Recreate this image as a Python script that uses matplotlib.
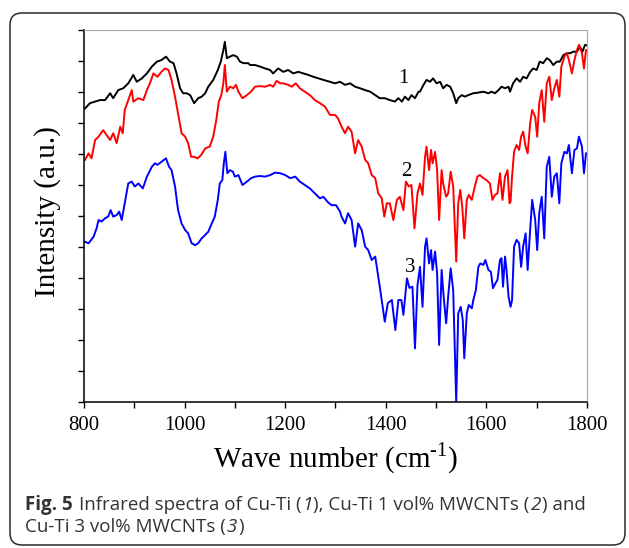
import matplotlib
matplotlib.use('Agg')
import matplotlib.pyplot as plt
from matplotlib.patches import FancyBboxPatch
from matplotlib.transforms import IdentityTransform
from matplotlib.ticker import MultipleLocator

plt.rcParams['font.family'] = 'Liberation Serif'
plt.rcParams['mathtext.fontset'] = 'custom'
plt.rcParams['mathtext.rm'] = 'Liberation Serif'

# curve 1: Cu-Ti
wn1 = [802, 812, 822, 832, 842, 852, 858, 868, 878, 888, 898, 905, 915, 925, 935, 945, 954, 963,
       971, 978, 984, 991, 997, 1004, 1011, 1019, 1027, 1034, 1041, 1047, 1057, 1066, 1072, 1077,
       1080, 1084, 1090, 1097, 1104, 1110, 1117, 1127, 1130, 1140, 1150, 1160, 1170, 1176, 1186,
       1196, 1206, 1216, 1226, 1236, 1246, 1256, 1266, 1276, 1289, 1299, 1309, 1319, 1329, 1339,
       1349, 1359, 1369, 1379, 1388, 1398, 1408, 1418, 1425, 1432, 1438, 1445, 1451, 1458, 1465,
       1468, 1475, 1481, 1488, 1494, 1501, 1508, 1514, 1521, 1528, 1534, 1540, 1544, 1551, 1557,
       1564, 1574, 1584, 1594, 1604, 1610, 1617, 1624, 1630, 1637, 1644, 1647, 1653, 1660, 1667,
       1673, 1680, 1687, 1693, 1700, 1706, 1713, 1720, 1726, 1733, 1740, 1746, 1753, 1760, 1766,
       1773, 1780, 1786, 1791, 1796, 1800]
int1 = [9.47, 9.64, 9.69, 9.74, 9.74, 9.96, 9.80, 10.06, 10.12, 10.28, 10.55, 10.33, 10.44, 10.60,
        10.82, 10.98, 11.03, 11.14, 10.98, 10.93, 10.60, 10.12, 9.96, 9.96, 9.90, 9.64, 9.80, 9.85,
        9.96, 10.17, 10.39, 10.71, 10.98, 11.35, 11.62, 11.09, 11.14, 11.19, 11.14, 10.98, 10.93,
        10.93, 10.87, 10.87, 10.82, 10.76, 10.71, 10.60, 10.76, 10.65, 10.71, 10.60, 10.65, 10.60,
        10.55, 10.49, 10.44, 10.39, 10.33, 10.28, 10.33, 10.23, 10.28, 10.17, 10.12, 10.06, 10.01,
        9.90, 9.80, 9.80, 9.74, 9.69, 9.80, 9.69, 9.85, 9.74, 9.90, 9.80, 10.01, 10.01, 10.23,
        10.39, 10.33, 10.44, 10.28, 10.33, 10.12, 10.23, 10.17, 9.96, 9.64, 9.80, 9.90, 9.85, 9.90,
        9.96, 9.98, 10.01, 9.96, 10.01, 9.96, 10.06, 10.17, 10.12, 10.17, 10.01, 10.28, 10.44,
        10.33, 10.49, 10.44, 10.65, 10.76, 10.71, 10.98, 10.93, 11.09, 11.03, 10.87, 10.98, 10.98,
        11.19, 11.25, 11.25, 11.30, 11.30, 11.46, 11.30, 11.52, 11.50]

# curve 2: Cu-Ti 1 vol% MWCNTs
wn2 = [802, 809, 815, 822, 829, 838, 845, 852, 858, 865, 872, 877, 881, 888, 895, 898, 908, 918,
       925, 931, 938, 946, 954, 961, 968, 974, 981, 987, 994, 1001, 1007, 1013, 1019, 1026, 1033,
       1041, 1050, 1057, 1063, 1068, 1073, 1077, 1080, 1084, 1090, 1097, 1102, 1107, 1115, 1124,
       1132, 1140, 1150, 1160, 1170, 1176, 1183, 1190, 1196, 1206, 1213, 1221, 1229, 1239, 1249,
       1259, 1269, 1279, 1289, 1299, 1305, 1312, 1319, 1325, 1332, 1339, 1345, 1352, 1359, 1365,
       1372, 1379, 1385, 1392, 1397, 1402, 1408, 1415, 1422, 1428, 1435, 1440, 1446, 1451, 1457,
       1463, 1468, 1473, 1478, 1481, 1486, 1490, 1493, 1498, 1502, 1506, 1511, 1514, 1520, 1524,
       1529, 1534, 1540, 1544, 1548, 1552, 1556, 1561, 1565, 1571, 1574, 1577, 1582, 1587, 1594,
       1600, 1607, 1612, 1617, 1622, 1627, 1632, 1637, 1642, 1646, 1648, 1651, 1655, 1660, 1665,
       1669, 1673, 1678, 1682, 1687, 1691, 1697, 1701, 1705, 1710, 1715, 1720, 1725, 1730, 1735,
       1740, 1745, 1749, 1755, 1760, 1764, 1770, 1775, 1780, 1784, 1790, 1794, 1798]
int2 = [7.81, 8.02, 7.86, 8.45, 8.56, 8.77, 8.61, 8.45, 8.67, 8.35, 8.88, 8.67, 9.42, 9.74, 10.06,
        9.69, 9.80, 9.74, 10.06, 10.28, 10.60, 10.49, 10.65, 10.76, 10.71, 10.39, 9.85, 9.31, 8.67,
        8.56, 8.35, 7.91, 7.91, 7.86, 7.97, 8.18, 8.24, 8.56, 9.10, 9.69, 9.90, 10.28, 10.87, 10.01,
        10.17, 10.12, 10.23, 10.01, 9.80, 9.90, 10.01, 10.17, 10.19, 10.17, 10.23, 10.17, 10.36,
        10.28, 10.28, 10.23, 10.17, 10.28, 10.12, 10.01, 9.90, 9.74, 9.64, 9.53, 9.26, 9.26, 9.15,
        8.88, 8.67, 8.88, 8.72, 8.02, 8.45, 8.24, 7.81, 7.70, 7.32, 7.22, 6.73, 6.57, 5.98, 6.41,
        6.41, 5.87, 6.52, 6.62, 6.19, 7.11, 6.95, 7.00, 5.60, 6.73, 7.05, 6.68, 7.91, 8.24, 7.48,
        8.13, 7.70, 8.07, 7.48, 5.87, 7.48, 7.05, 6.62, 6.73, 7.43, 6.95, 4.53, 6.41, 6.84, 6.30,
        5.28, 6.52, 6.68, 6.52, 6.73, 6.95, 7.27, 7.32, 7.22, 7.16, 7.05, 6.52, 6.68, 6.73, 7.38,
        6.52, 7.27, 7.48, 6.41, 6.46, 7.27, 8.07, 8.29, 8.13, 8.56, 8.72, 8.24, 8.02, 8.99, 9.42,
        9.20, 8.56, 9.64, 10.06, 9.04, 10.28, 10.49, 9.74, 10.12, 10.39, 9.85, 10.82, 11.14, 11.25,
        11.03, 10.60, 11.03, 11.35, 11.52, 11.25, 10.76, 11.35]

# curve 3: Cu-Ti 3 vol% MWCNTs
wn3 = [802, 809, 819, 825, 829, 835, 842, 848, 853, 858, 865, 870, 875, 881, 888, 895, 901, 908,
       917, 925, 935, 941, 946, 954, 963, 969, 974, 981, 987, 994, 1001, 1007, 1014, 1021, 1027,
       1034, 1041, 1047, 1054, 1060, 1066, 1070, 1075, 1078, 1081, 1085, 1090, 1096, 1100, 1107,
       1115, 1124, 1132, 1140, 1150, 1160, 1170, 1180, 1190, 1200, 1210, 1220, 1229, 1239, 1249,
       1259, 1269, 1276, 1284, 1292, 1301, 1309, 1312, 1319, 1325, 1332, 1339, 1345, 1352, 1359,
       1365, 1372, 1379, 1388, 1398, 1404, 1412, 1419, 1425, 1431, 1435, 1442, 1447, 1453, 1458,
       1463, 1468, 1473, 1478, 1481, 1486, 1490, 1493, 1498, 1502, 1506, 1511, 1515, 1520, 1524,
       1529, 1534, 1540, 1544, 1549, 1553, 1556, 1561, 1565, 1571, 1574, 1579, 1584, 1588, 1594,
       1598, 1604, 1609, 1613, 1618, 1622, 1627, 1630, 1633, 1637, 1640, 1644, 1648, 1651, 1655,
       1660, 1665, 1669, 1673, 1678, 1682, 1687, 1691, 1697, 1701, 1705, 1710, 1715, 1720, 1725,
       1730, 1735, 1740, 1745, 1749, 1755, 1760, 1764, 1770, 1775, 1780, 1784, 1790, 1794, 1798]
int3 = [5.17, 5.12, 5.33, 5.60, 5.87, 5.82, 5.93, 5.98, 6.19, 5.98, 6.03, 6.14, 5.87, 6.41, 7.05,
        7.11, 6.95, 7.05, 6.89, 7.27, 7.59, 7.70, 7.65, 7.75, 7.86, 7.59, 7.48, 6.95, 6.19, 5.76,
        5.55, 5.44, 5.12, 5.06, 5.12, 5.28, 5.39, 5.49, 5.76, 5.98, 6.52, 7.05, 7.16, 7.70, 8.07,
        7.38, 7.48, 7.43, 7.27, 7.32, 7.00, 7.11, 7.22, 7.27, 7.29, 7.27, 7.32, 7.40, 7.38, 7.32,
        7.22, 7.27, 7.11, 7.00, 6.89, 6.73, 6.57, 6.62, 6.46, 6.35, 6.35, 6.14, 5.98, 5.76, 6.09,
        5.87, 5.01, 5.76, 5.55, 5.01, 4.90, 4.58, 4.69, 3.72, 2.59, 3.19, 3.29, 2.32, 3.29, 3.29,
        2.81, 3.99, 3.68, 3.72, 1.73, 3.77, 4.36, 3.07, 5.01, 5.28, 4.47, 4.90, 4.26, 4.85, 4.15,
        1.84, 4.26, 3.40, 2.54, 3.40, 4.31, 3.61, 0.0, 2.86, 3.07, 2.65, 1.41, 2.86, 3.13, 3.02,
        3.29, 3.61, 4.36, 4.47, 4.42, 4.58, 4.26, 4.20, 3.67, 3.83, 3.94, 4.58, 4.64, 3.72, 4.69,
        4.26, 3.40, 3.07, 3.29, 5.01, 5.23, 5.12, 4.36, 5.01, 5.44, 4.26, 5.55, 6.52, 5.87, 4.90,
        6.09, 6.62, 5.28, 7.59, 7.91, 6.62, 7.27, 7.38, 6.41, 7.70, 8.07, 8.02, 8.29, 7.38, 8.13,
        8.18, 8.56, 8.24, 7.38, 8.02]

labels = ['1', '2', '3']
label_pos = [(1434, 10.45), (1440, 7.45), (1448, 4.35)]
colors = ['black', '#ff0000', '#0000ff']

fig = plt.figure(figsize=(6.29, 5.48), dpi=100)

# rounded frame round the whole figure
frame = FancyBboxPatch((10, 3), 615, 532, boxstyle='round,pad=0,rounding_size=12',
                       transform=IdentityTransform(), fill=False, ec='#2b2b2b', lw=1.1)
fig.patches.append(frame)

ax = fig.add_axes([84 / 629, 1 - 402 / 548, 503 / 629, 372 / 548])
for wn, it, c in zip([wn1, wn2, wn3], [int1, int2, int3], colors):
    ax.plot(wn, it, color=c, lw=1.4)
for s, (x, y) in zip(labels, label_pos):
    ax.text(x, y, s, fontsize=15, ha='center', va='center')

ax.set_xlim(800, 1800)
ax.set_ylim(0, 12)
ax.xaxis.set_major_locator(MultipleLocator(200))
ax.xaxis.set_minor_locator(MultipleLocator(100))
ax.yaxis.set_major_locator(MultipleLocator(1))
ax.tick_params(axis='x', which='both', direction='out', length=4, width=1, labelsize=15, pad=6)
ax.tick_params(axis='y', which='both', direction='out', length=4, width=1, labelleft=False)
for side in ['top', 'right']:
    ax.spines[side].set_color('#a8a8a8')
for side in ['left', 'bottom']:
    ax.spines[side].set_linewidth(1.1)

ax.set_xlabel(r'Wave number (cm$^{\text{-}1}$)', fontsize=21, labelpad=4)
ax.set_ylabel('Intensity (a.u.)', fontsize=21, va='center')
ax.yaxis.set_label_coords(-0.0716, 0.511)

# caption with mixed bold / italic pieces
r = fig.canvas.get_renderer()
cap = dict(family='Open Sans', fontsize=13.5, color='#333333')
t_a = fig.text(0, 0, 'a a', **cap)
t_b = fig.text(0, 0, 'aa', **cap)
space_w = (t_a.get_window_extent(r).width - t_b.get_window_extent(r).width) / fig.bbox.width
t_a.remove()
t_b.remove()


def put_runs(x, y, runs):
    for s, extra in runs:
        if s == ' ':
            x += space_w
            continue
        t = fig.text(x, y, s, va='baseline', **cap, **extra)
        x += t.get_window_extent(r).width / fig.bbox.width + 0.0015


put_runs(25 / 629, 1 - 510 / 548,
         [('Fig. 5', dict(weight='bold')), (' ', {}), ('Infrared spectra of Cu-Ti (', {}),
          ('1', dict(style='italic')), ('), Cu-Ti 1 vol% MWCNTs (', {}),
          ('2', dict(style='italic')), (') and', {})])
put_runs(25 / 629, 1 - 532 / 548,
         [('Cu-Ti 3 vol% MWCNTs (', {}), ('3', dict(style='italic')), (')', {})])

fig.savefig('out.png', dpi=100)
